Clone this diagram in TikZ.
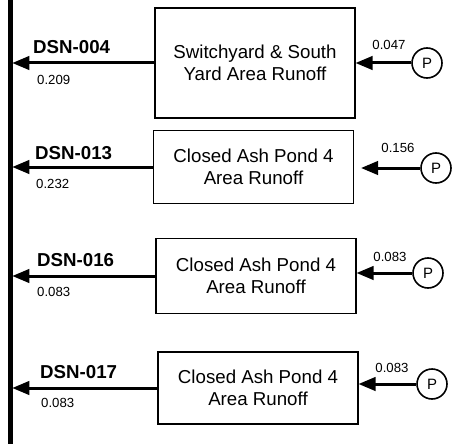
\documentclass[tikz,border=0pt]{standalone}
\usepackage{fontspec}
\setmainfont{Liberation Sans}
\usepackage{tikz}
\usetikzlibrary{arrows}
\definecolor{qqqqqq}{rgb}{0.,0.,0.}
\tikzset{runbox/.style={draw=qqqqqq,line width=1.5pt,minimum width=200pt,inner sep=0pt,align=center,font=\fontsize{18.7}{22}\selectfont},
pump/.style={draw=qqqqqq,circle,line width=1.6pt,minimum size=30pt,inner sep=0pt,font=\fontsize{15}{15}\selectfont},
flow/.style={->,line width=3pt},
dsn/.style={anchor=west,inner sep=0pt,font=\bfseries\fontsize{18.7}{18.7}\selectfont},
rate/.style={inner sep=0pt,font=\fontsize{13.2}{13.2}\selectfont}}
\begin{document}
\begin{tikzpicture}[line cap=butt,line join=miter,>=triangle 45,x=1pt,y=-1pt]
\useasboundingbox (0,0) rectangle (455,444);
\draw [line width=5pt] (10,0)-- (10,444);
% outfalls
\coordinate (o1) at (12.5,63);
\coordinate (o2) at (12.5,167);
\coordinate (o3) at (12.5,276);
\coordinate (o4) at (12.5,388);
% runoff areas
\node [runbox,minimum height=110pt] (b1) at (255,63) {Switchyard \& South\\Yard Area Runoff};
\node [runbox,minimum height=73pt] (b2) at (253.5,167) {Closed Ash Pond 4\\Area Runoff};
\node [runbox,minimum height=75pt] (b3) at (256,276) {Closed Ash Pond 4\\Area Runoff};
\node [runbox,minimum height=72pt] (b4) at (258,388) {Closed Ash Pond 4\\Area Runoff};
% precipitation
\node [pump] (p1) at (427,63) {P};
\node [pump] (p2) at (436,168) {P};
\node [pump] (p3) at (428,273) {P};
\node [pump] (p4) at (432,384) {P};
\draw [flow] (p1) -- (b1.east |- p1);
\draw [flow,shorten >=7pt] (p2) -- (b2.east |- p2);
\draw [flow] (p3) -- (b3.east |- p3);
\draw [flow] (p4) -- (b4.east |- p4);
\draw [flow] (b1.west) -- (o1);
\draw [flow] (b2.west) -- (o2);
\draw [flow] (b3.west) -- (o3);
\draw [flow] (b4.west) -- (o4);
% labels
\node [dsn] (d1) at (33,47) {DSN-004};
\node [dsn] (d2) at (35,153) {DSN-013};
\node [dsn] (d3) at (37,260) {DSN-016};
\node [dsn] (d4) at (40,372) {DSN-017};
\node [rate,anchor=west] (q1) at (37,80) {0.209};
\node [rate,anchor=west] (q2) at (36,184) {0.232};
\node [rate,anchor=west] (q3) at (37,292) {0.083};
\node [rate,anchor=west] (q4) at (41,403) {0.083};
\node [rate] (r1) at (389,45) {0.047};
\node [rate] (r2) at (398,148) {0.156};
\node [rate] (r3) at (390,257) {0.083};
\node [rate] (r4) at (392,368) {0.083};
\end{tikzpicture}
\end{document}
